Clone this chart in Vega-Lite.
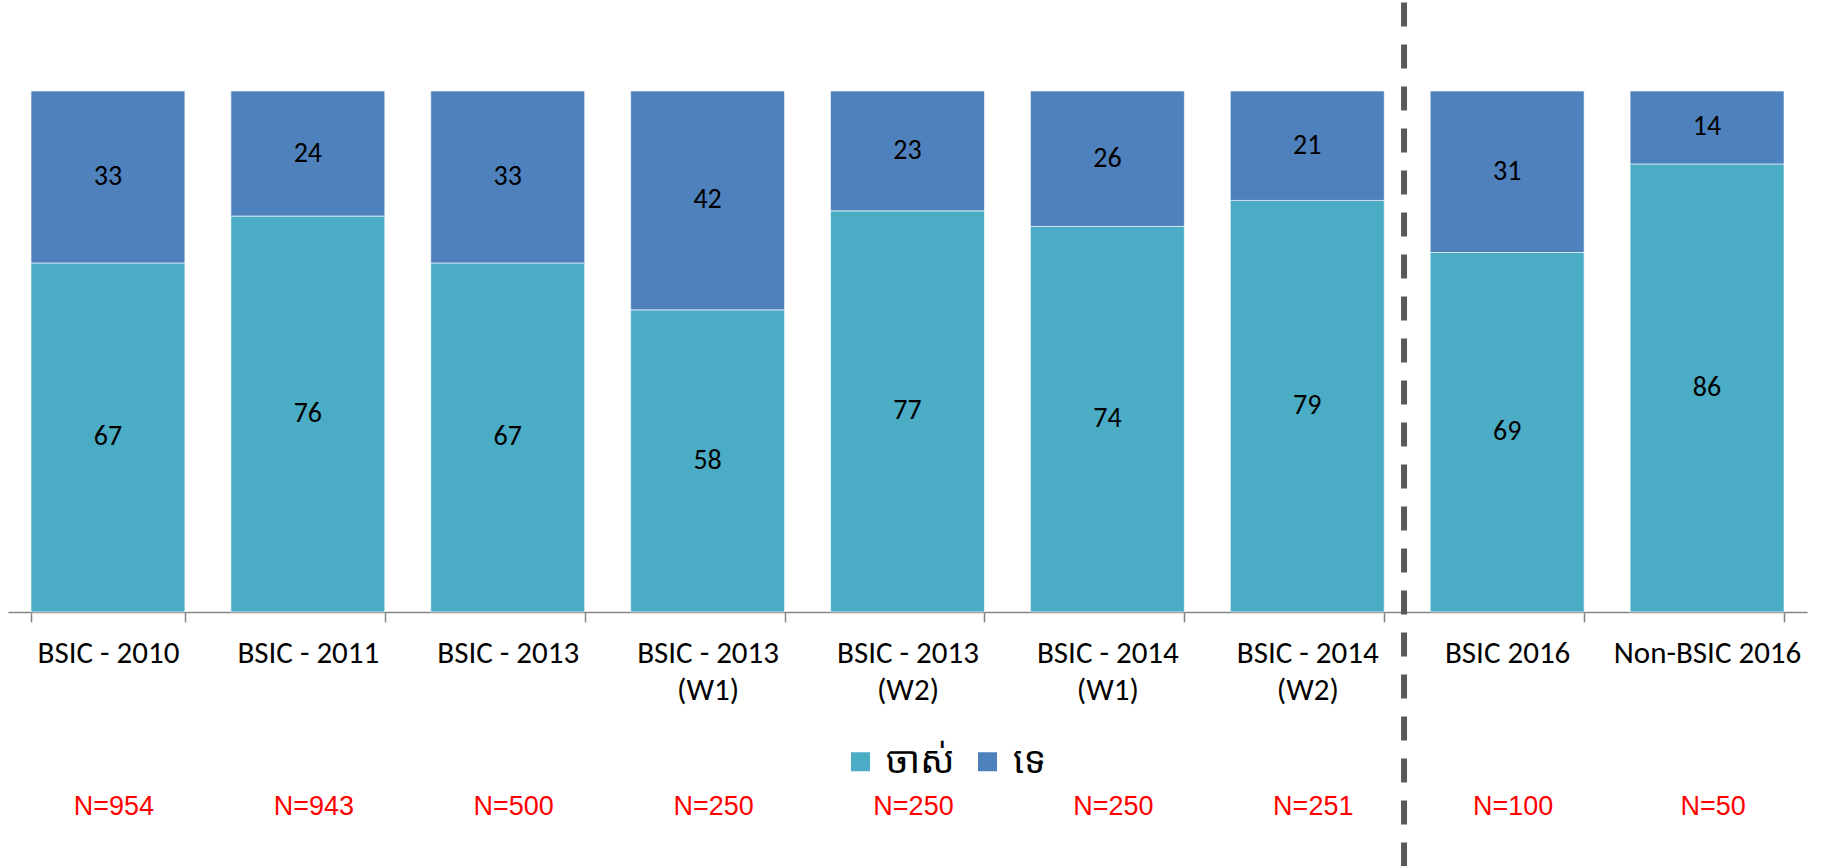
{
  "$schema": "https://vega.github.io/schema/vega-lite/v6.json",
  "autosize": {"type": "none"},
  "padding": {"left": 8, "top": 91, "right": 17, "bottom": 254},
  "width": 1799,
  "height": 521,
  "config": {"view": {"stroke": null}, "font": "Carlito, Lato, sans-serif"},
  "datasets": {
    "main": [
      {"cat": "BSIC - 2010", "resp": "ចាស់", "value": 67},
      {"cat": "BSIC - 2010", "resp": "ទេ", "value": 33},
      {"cat": "BSIC - 2011", "resp": "ចាស់", "value": 76},
      {"cat": "BSIC - 2011", "resp": "ទេ", "value": 24},
      {"cat": "BSIC - 2013", "resp": "ចាស់", "value": 67},
      {"cat": "BSIC - 2013", "resp": "ទេ", "value": 33},
      {"cat": "BSIC - 2013 (W1)", "resp": "ចាស់", "value": 58},
      {"cat": "BSIC - 2013 (W1)", "resp": "ទេ", "value": 42},
      {"cat": "BSIC - 2013 (W2)", "resp": "ចាស់", "value": 77},
      {"cat": "BSIC - 2013 (W2)", "resp": "ទេ", "value": 23},
      {"cat": "BSIC - 2014 (W1)", "resp": "ចាស់", "value": 74},
      {"cat": "BSIC - 2014 (W1)", "resp": "ទេ", "value": 26},
      {"cat": "BSIC - 2014 (W2)", "resp": "ចាស់", "value": 79},
      {"cat": "BSIC - 2014 (W2)", "resp": "ទេ", "value": 21},
      {"cat": "BSIC 2016", "resp": "ចាស់", "value": 69},
      {"cat": "BSIC 2016", "resp": "ទេ", "value": 31},
      {"cat": "Non-BSIC 2016", "resp": "ចាស់", "value": 86},
      {"cat": "Non-BSIC 2016", "resp": "ទេ", "value": 14}
    ],
    "n": [
      {"cat": "BSIC - 2010", "label": "N=954"},
      {"cat": "BSIC - 2011", "label": "N=943"},
      {"cat": "BSIC - 2013", "label": "N=500"},
      {"cat": "BSIC - 2013 (W1)", "label": "N=250"},
      {"cat": "BSIC - 2013 (W2)", "label": "N=250"},
      {"cat": "BSIC - 2014 (W1)", "label": "N=250"},
      {"cat": "BSIC - 2014 (W2)", "label": "N=251"},
      {"cat": "BSIC 2016", "label": "N=100"},
      {"cat": "Non-BSIC 2016", "label": "N=50"}
    ],
    "divider": [{"cat": "BSIC 2016", "top": 117, "bottom": -50}]
  },
  "layer": [
    {
      "data": {"name": "main"},
      "transform": [
        {"stack": "value", "groupby": ["cat"], "sort": [{"field": "resp", "order": "ascending"}], "as": ["v0", "v1"]}
      ],
      "mark": {"type": "bar", "stroke": "#ffffff", "strokeWidth": 1, "strokeOpacity": 0.6},
      "encoding": {
        "x": {
          "field": "cat", "type": "nominal", "sort": null,
          "scale": {
            "domain": ["BSIC - 2010", "BSIC - 2011", "BSIC - 2013", "BSIC - 2013 (W1)", "BSIC - 2013 (W2)", "BSIC - 2014 (W1)", "BSIC - 2014 (W2)", "BSIC 2016", "Non-BSIC 2016"],
            "paddingInner": 0.23, "paddingOuter": 0.115
          },
          "axis": {
            "title": null, "labelAngle": 0, "labelFontSize": 31, "labelColor": "#000000",
            "labelPadding": 16, "labelLimit": 400, "labelLineHeight": 37,
            "labelExpr": "split(replace(datum.label, ' (', '|('), '|')",
            "domainColor": "#868686", "domainWidth": 1.5,
            "tickColor": "#868686", "tickWidth": 1.5, "tickSize": 10, "tickBand": "extent"
          }
        },
        "y": {"field": "v0", "type": "quantitative", "scale": {"domain": [0, 100], "nice": false}, "axis": null},
        "y2": {"field": "v1"},
        "color": {
          "field": "resp", "type": "nominal",
          "scale": {"domain": ["ចាស់", "ទេ"], "range": ["#4BACC6", "#4F81BD"]},
          "legend": {
            "title": null, "orient": "none", "direction": "horizontal",
            "legendX": 834, "legendY": 652, "padding": 0,
            "symbolType": "square", "symbolSize": 361, "symbolStrokeWidth": 0,
            "labelFontSize": 37, "labelColor": "#000000", "labelFont": "Noto Sans Khmer, Noto Serif Khmer, Khmer OS, sans-serif",
            "labelOffset": 7, "columnPadding": 14
          }
        }
      }
    },
    {
      "data": {"name": "main"},
      "transform": [
        {"stack": "value", "groupby": ["cat"], "sort": [{"field": "resp", "order": "ascending"}], "as": ["v0", "v1"]},
        {"calculate": "(datum.v0 + datum.v1) / 2", "as": "mid"}
      ],
      "mark": {"type": "text", "fontSize": 28, "color": "#000000", "baseline": "middle", "align": "center"},
      "encoding": {
        "x": {"field": "cat", "type": "nominal", "sort": null},
        "y": {"field": "mid", "type": "quantitative"},
        "text": {"field": "value", "type": "quantitative"}
      }
    },
    {
      "data": {"name": "n"},
      "mark": {"type": "text", "fontSize": 27, "font": "Liberation Sans Narrow, Liberation Sans, Arial, sans-serif", "color": "#FF0000", "baseline": "middle", "align": "center", "dy": 195, "dx": 6},
      "encoding": {
        "x": {"field": "cat", "type": "nominal", "sort": null},
        "y": {"datum": 0, "type": "quantitative"},
        "text": {"field": "label", "type": "nominal"}
      }
    },
    {
      "data": {"name": "divider"},
      "mark": {"type": "rule", "color": "#595959", "strokeWidth": 6, "strokeDash": [24, 18], "clip": false},
      "encoding": {
        "x": {"field": "cat", "type": "nominal", "sort": null, "bandPosition": -0.17},
        "y": {"field": "top", "type": "quantitative"},
        "y2": {"field": "bottom"}
      }
    }
  ]
}
